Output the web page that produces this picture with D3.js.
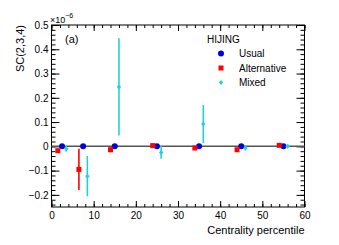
<!DOCTYPE html>
<html>
<head>
<meta charset="utf-8">
<script src="https://cdn.jsdelivr.net/npm/d3@7"></script>
<style>
  body { margin: 0; background: #fff; }
  text { font-family: "Liberation Sans", Arial, sans-serif; fill: #000; }
</style>
</head>
<body>
<div id="chart"></div>
<script>
// bin centres (centrality %)
var centres = [2.5, 7.5, 15, 25, 35, 45, 55];

// values in units of 1e-6
var usualVals = [0, 0, 0, 0, 0, 0, 0];
var usualErrs = [0.002, 0.002, 0.002, 0.002, 0.002, 0.002, 0.002];

var altVals = [-0.018, -0.095, -0.014, 0.003, -0.007, -0.014, 0.004];
var altErrs = [0.004, 0.085, 0.01, 0.003, 0.004, 0.004, 0.003];

var mixedVals = [-0.01, -0.123, 0.245, -0.025, 0.092, -0.007, 0.0];
var mixedErrs = [0.012, 0.083, 0.2, 0.026, 0.078, 0.01, 0.008];

var xTicks = [0, 10, 20, 30, 40, 50, 60];
var yTicks = [-0.2, -0.1, 0, 0.1, 0.2, 0.3, 0.4, 0.5];

var series = [
    { name: "Usual", vals: usualVals, errs: usualErrs, shift: 0, color: "#0000d8", shape: "circle" },
    { name: "Alternative", vals: altVals, errs: altErrs, shift: -1, color: "#ff0000", shape: "square" },
    { name: "Mixed", vals: mixedVals, errs: mixedErrs, shift: 1, color: "#22d3d3", shape: "diamond" }
];

var W = 339, H = 245;
var margin = {top: 25, right: 34.5, bottom: 38, left: 51.5},
    width = W - margin.left - margin.right,
    height = H - margin.top - margin.bottom;

var svg = d3.select("#chart").append("svg")
    .attr("width", W)
    .attr("height", H);

var g = svg.append("g")
    .attr("transform", "translate(" + margin.left + "," + margin.top + ")");

var x = d3.scaleLinear().domain([0, 60]).range([0, width]);
var y = d3.scaleLinear().domain([-0.25, 0.5]).range([height, 0]);

// minor ticks
var xMinor = d3.range(0, 60.01, 2);
var yMinor = d3.range(-0.24, 0.501, 0.02);

// bottom axis (ticks inward)
g.append("g")
    .attr("transform", "translate(0," + height + ")")
    .call(d3.axisBottom(x).tickValues(xMinor).tickSize(-3).tickFormat(""))
    .call(a => a.select(".domain").remove());
g.append("g")
    .attr("transform", "translate(0," + height + ")")
    .call(d3.axisBottom(x).tickValues(xTicks).tickSize(-6).tickPadding(5).tickFormat(d3.format("d")))
    .call(a => a.select(".domain").remove())
    .call(a => a.selectAll("text").attr("font-size", "10px").attr("font-family", "Liberation Sans, Arial, sans-serif"));

// top axis
g.append("g")
    .call(d3.axisTop(x).tickValues(xMinor).tickSize(-3).tickFormat(""))
    .call(a => a.select(".domain").remove());
g.append("g")
    .call(d3.axisTop(x).tickValues(xTicks).tickSize(-6).tickFormat(""))
    .call(a => a.select(".domain").remove());

// left axis
g.append("g")
    .call(d3.axisLeft(y).tickValues(yMinor).tickSize(-4).tickFormat(""))
    .call(a => a.select(".domain").remove());
g.append("g")
    .call(d3.axisLeft(y).tickValues(yTicks).tickSize(-8).tickPadding(3)
        .tickFormat(d => d === 0 ? "0" : (d < 0 ? "\u2212" + d3.format(".1f")(-d) : d3.format(".1f")(d))))
    .call(a => a.select(".domain").remove())
    .call(a => a.selectAll("text").attr("font-size", "10px").attr("font-family", "Liberation Sans, Arial, sans-serif"));

// right axis
g.append("g")
    .attr("transform", "translate(" + width + ",0)")
    .call(d3.axisRight(y).tickValues(yMinor).tickSize(-4).tickFormat(""))
    .call(a => a.select(".domain").remove());
g.append("g")
    .attr("transform", "translate(" + width + ",0)")
    .call(d3.axisRight(y).tickValues(yTicks).tickSize(-8).tickFormat(""))
    .call(a => a.select(".domain").remove());

g.selectAll(".tick line").attr("stroke", "#000");

// frame
g.append("rect")
    .attr("width", width)
    .attr("height", height)
    .attr("fill", "none")
    .attr("stroke", "#000")
    .attr("stroke-width", 1);

// zero line
g.append("line")
    .attr("x1", 0).attr("x2", width)
    .attr("y1", y(0)).attr("y2", y(0))
    .attr("stroke", "#555")
    .attr("stroke-width", 1.5);

// error bars and markers
function marker(sel, s) {
    if (s.shape === "circle") {
        sel.append("circle").attr("r", 3).attr("fill", s.color);
    } else if (s.shape === "square") {
        sel.append("rect").attr("x", -2.5).attr("y", -2.5).attr("width", 5).attr("height", 5).attr("fill", s.color);
    } else {
        sel.append("path").attr("d", "M0,-2.5L2.2,0L0,2.5L-2.2,0Z").attr("fill", s.color);
    }
}

series.forEach(function(s) {
    var pts = centres.map(function(c, i) {
        return { x: c + s.shift, v: s.vals[i], e: s.errs[i] };
    });
    var sg = g.append("g");
    sg.selectAll("line.err")
        .data(pts)
        .enter().append("line")
        .attr("class", "err")
        .attr("x1", d => x(d.x)).attr("x2", d => x(d.x))
        .attr("y1", d => y(d.v - d.e)).attr("y2", d => y(d.v + d.e))
        .attr("stroke", s.color)
        .attr("stroke-width", 1.6);
    sg.selectAll("g.pt")
        .data(pts)
        .enter().append("g")
        .attr("class", "pt")
        .attr("transform", d => "translate(" + x(d.x) + "," + y(d.v) + ")")
        .each(function() { marker(d3.select(this), s); });
});

// legend
var leg = svg.append("g");
leg.append("text")
    .attr("x", 207).attr("y", 43)
    .attr("font-size", "10px")
    .text("HIJING");
series.forEach(function(s, i) {
    var ly = 53.5 + i * 14.5;
    var lg = leg.append("g").attr("transform", "translate(221," + ly + ")");
    marker(lg, s);
    leg.append("text")
        .attr("x", 239).attr("y", ly + 3.6)
        .attr("font-size", "10px")
        .text(s.name);
});

// labels
svg.append("text")
    .attr("x", 65).attr("y", 43)
    .attr("font-size", "11px")
    .text("(a)");

svg.append("text")
    .attr("transform", "translate(24,25) rotate(-90)")
    .attr("text-anchor", "end")
    .attr("font-size", "11px")
    .text("SC(2,3,4)");

var mult = svg.append("text")
    .attr("x", 50).attr("y", 23)
    .attr("font-size", "9px");
mult.append("tspan").text("\u00d710");
mult.append("tspan").attr("dy", -5).attr("font-size", "7px").text("\u22126");

svg.append("text")
    .attr("x", margin.left + width)
    .attr("y", 233.5)
    .attr("text-anchor", "end")
    .attr("font-size", "11px")
    .text("Centrality percentile");
</script>
</body>
</html>
